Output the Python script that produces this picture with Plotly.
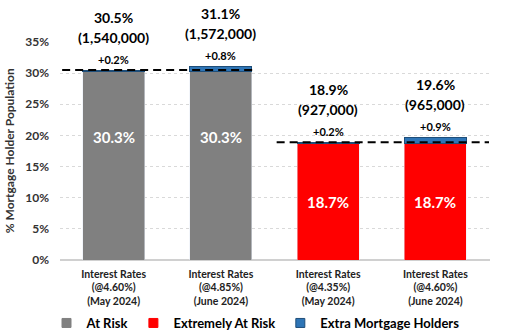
import plotly.graph_objects as go

categories = [
    "Interest Rates<br>(@4.60%)<br>(May 2024)",
    "Interest Rates<br>(@4.85%)<br>(June 2024)",
    "Interest Rates<br>(@4.35%)<br>(May 2024)",
    "Interest Rates<br>(@4.60%)<br>(June 2024)",
]
at_risk = [30.3, 30.3, None, None]
extremely_at_risk = [None, None, 18.7, 18.7]
extra_holders = [0.2, 0.8, 0.2, 0.9]
totals = [30.5, 31.1, 18.9, 19.6]
holder_counts = ["1,540,000", "1,572,000", "927,000", "965,000"]
# reference levels drawn as dashed lines across each pair of scenarios
baseline_levels = [30.5, 18.9]

series_names = ["At Risk", "Extremely At Risk", "Extra Mortgage Holders"]
series_colors = ["#808080", "#FF0000", "#2E75B6"]

FONT = "Lato"
fig = go.Figure()
fig.add_bar(x=categories, y=at_risk, name=series_names[0],
            marker_color=series_colors[0], width=0.58, showlegend=False)
fig.add_bar(x=categories, y=extremely_at_risk, name=series_names[1],
            marker_color=series_colors[1], width=0.58, showlegend=False)
fig.add_bar(x=categories, y=extra_holders, name=series_names[2],
            marker=dict(color=series_colors[2], line=dict(color="#1F4E79", width=1)),
            width=0.58, showlegend=False)

# square legend keys
for name, color in zip(series_names, series_colors):
    fig.add_scatter(x=[None], y=[None], mode="markers", name=f"<b>{name}</b>",
                    marker=dict(symbol="square", size=9, color=color,
                                line=dict(color="#1F4E79" if color == "#2E75B6" else color,
                                          width=1)))

annotations = []
for i, cat in enumerate(categories):
    base = at_risk[i] if at_risk[i] is not None else extremely_at_risk[i]
    top = base + extra_holders[i]
    annotations.append(dict(x=cat, y=top, text=f"<b>+{extra_holders[i]:.1f}%</b>",
                            showarrow=False, yshift=11, font=dict(size=11, color="black")))
    annotations.append(dict(x=cat, y=top, text=f"<b>({holder_counts[i]})</b>",
                            showarrow=False, yshift=33, font=dict(size=14, color="black")))
    annotations.append(dict(x=cat, y=top, text=f"<b>{totals[i]:.1f}%</b>",
                            showarrow=False, yshift=53, font=dict(size=14, color="black")))
    label_y = base * 0.65 if at_risk[i] is not None else base / 2
    annotations.append(dict(x=cat, y=label_y, text=f"<b>{base:.1f}%</b>",
                            showarrow=False, font=dict(size=15, color="white")))

# y-axis title placed by hand so it sits at the left edge
annotations.append(dict(xref="paper", yref="paper", x=-0.118, y=0.5,
                        xanchor="center", yanchor="middle", textangle=-90,
                        text="<b>% Mortgage Holder Population</b>", showarrow=False,
                        font=dict(size=12, color="#333333")))

shapes = [
    dict(type="line", xref="x", yref="y", x0=-0.48, x1=1.31,
         y0=baseline_levels[0], y1=baseline_levels[0],
         line=dict(color="black", width=2, dash="8px,5px")),
    dict(type="line", xref="x", yref="y", x0=1.52, x1=3.5,
         y0=baseline_levels[1], y1=baseline_levels[1],
         line=dict(color="black", width=2, dash="8px,5px")),
]

fig.update_layout(
    barmode="stack",
    width=511, height=333,
    margin=dict(l=60, r=21, t=42, b=73, autoexpand=False),
    plot_bgcolor="white", paper_bgcolor="white",
    font=dict(family=FONT, color="#222222"),
    annotations=annotations,
    shapes=shapes,
    showlegend=True,
    legend=dict(orientation="h", x=0.5, xanchor="center", xref="container",
                y=0.03, yanchor="middle", yref="container",
                font=dict(size=13, color="black"), traceorder="normal",
                itemwidth=30, tracegroupgap=0),
    bargap=0.42,
)
fig.update_yaxes(range=[0, 35], dtick=5, ticksuffix="%</b>", tickprefix="<b>",
                 showgrid=True, gridcolor="#d9d9d9", griddash="dot",
                 zeroline=True, zerolinecolor="#d0d0d0", zerolinewidth=1.5,
                 tickfont=dict(size=12, color="#333333"), automargin=False,
                 ticklabelstandoff=10)
fig.update_xaxes(tickfont=dict(size=10.5, color="#222222"), automargin=False,
                 tickprefix="<b>", ticksuffix="</b>", showline=False,
                 ticklabelstandoff=6)

fig.write_html("out.html")
